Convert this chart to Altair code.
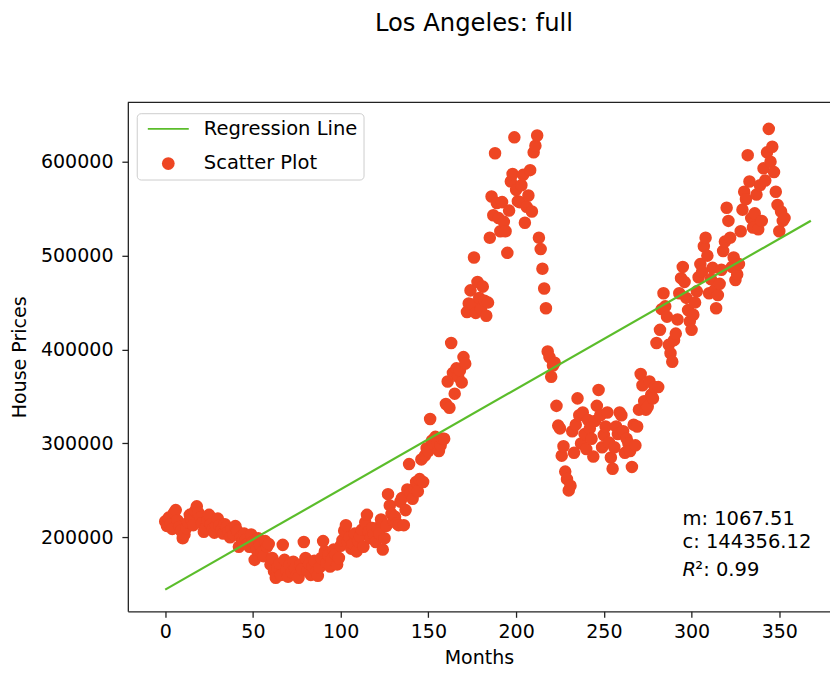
import altair as alt
import pandas as pd

# ---------------- data ----------------
prices = [
    217000, 212000, 221000, 214000, 209000, 226000, 229000, 218000, 211000, 207000,
    199000, 203000, 210000, 216000, 224000, 219000, 213000, 228000, 233000, 226000,
    221000, 215000, 206000, 210000, 218000, 224000, 214000, 209000, 205000, 212000,
    220000, 213000, 208000, 204000, 214000, 211000, 206000, 200000, 209000, 203000,
    212000, 207000, 190000, 200000, 196000, 204000, 198000, 193000, 190000, 203000,
    195000, 176000, 187000, 199000, 192000, 184000, 180000, 196000, 190000, 193000,
    171000, 178000, 164000, 157000, 168000, 172000, 160000, 192000, 176000, 165000,
    158000, 171000, 163000, 174000, 167000, 160000, 157000, 171000, 166000, 195000,
    178000, 164000, 172000, 160000, 169000, 175000, 163000, 159000, 168000, 178000,
    196000, 185000, 173000, 181000, 169000, 177000, 187000, 182000, 171000, 178000,
    191000, 197000, 207000, 213000, 195000, 200000, 188000, 193000, 204000, 185000,
    196000, 201000, 208000, 190000, 216000, 224000, 206000, 199000, 210000, 203000,
    195000, 210000, 204000, 219000, 187000, 199000, 212000, 246000, 234000, 225000,
    218000, 222000, 215000, 213000, 238000, 242000, 213000, 229000, 251000, 278000,
    247000, 241000, 252000, 259000, 249000, 262000, 283000, 259000, 287000, 295000,
    292000, 326000, 303000, 299000, 307000, 301000, 292000, 298000, 305000, 305000,
    342000, 366000, 338000, 407000, 375000, 353000, 380000, 371000, 378000, 365000,
    392000, 385000, 440000, 449000, 463000, 448000, 498000, 439000, 472000, 455000,
    443000, 467000, 452000, 436000, 450000, 519000, 563000, 543000, 609000, 556000,
    540000, 526000, 557000, 536000, 526000, 503000, 548000, 579000, 587000, 626000,
    570000, 558000, 557000, 575000, 586000, 535000, 552000, 564000, 591000, 547000,
    610000, 617000, 628000, 519000, 507000, 486000, 465000, 444000, 398000, 392000,
    371000, 383000, 386000, 340000, 319000, 316000, 287000, 297000, 270000, 262000,
    250000, 255000, 313000, 290000, 320000, 348000, 330000, 300000, 333000, 310000,
    294000, 325000, 316000, 305000, 286000, 324000, 340000, 357000, 330000, 296000,
    309000, 318000, 333000, 301000, 285000, 273000, 296000, 318000, 310000, 333000,
    330000, 313000, 290000, 305000, 300000, 292000, 275000, 320000, 298000, 318000,
    336000, 374000, 362000, 345000, 336000, 339000, 366000, 352000, 348000, 360000,
    407000, 360000, 421000, 443000, 460000, 446000, 435000, 405000, 396000, 387000,
    410000, 417000, 432000, 460000, 476000, 488000, 472000, 455000, 442000, 430000,
    421000, 437000, 450000, 462000, 477000, 491000, 483000, 510000, 519000, 500000,
    460000, 475000, 487000, 463000, 444000, 458000, 470000, 485000, 505000, 515000,
    551000, 537000, 519000, 488000, 498000, 474000, 480000, 491000, 526000, 549000,
    568000, 560000, 607000, 579000, 540000, 530000, 545000, 565000, 528000, 575000,
    537000, 593000, 580000, 610000, 635000, 600000, 616000, 589000, 568000, 554000,
    526000, 547000, 537000, 540000,
]
months = list(range(len(prices)))

slope = 1067.51
intercept = 144356.12
r_squared = 0.99
line_months = [0, 368]

series_names = ["Regression Line", "Scatter Plot"]
series_colors = ["#5bbd2b", "#ee4623"]
x_ticks = [0, 50, 100, 150, 200, 250, 300, 350]
y_ticks = [200000, 300000, 400000, 500000, 600000]

chart_title = "Los Angeles: full"
x_title = "Months"
y_title = "House Prices"

# ---------------- chart ----------------
W, H = 709, 514
FONT = "DejaVu Sans"
FS = 19.2
FS_TXT = 19.7

scatter_df = pd.DataFrame({"month": months, "price": prices, "series": series_names[1]})
line_df = pd.DataFrame({
    "month": line_months,
    "price": [intercept + slope * m for m in line_months],
})

x_scale = alt.Scale(domain=[-21.3, 378.9], nice=False, zero=False)
y_scale = alt.Scale(domain=[121200, 663300], nice=False, zero=False)

x_axis = alt.Axis(values=x_ticks, title=x_title, grid=False, labelPadding=5,
                  titlePadding=7, labelFlush=False)
y_axis = alt.Axis(values=y_ticks, title=y_title, grid=False, format="d",
                  labelPadding=9, titlePadding=11)

line_symbol = "M-3.22,-0.15H3.22V0.15H-3.22Z"

legend = alt.Legend(
    title=None, orient="none", legendX=9, legendY=11,
    symbolSize=165, symbolOffset=16, labelOffset=26,
    padding=6, rowPadding=14,
    fillColor="rgba(255,255,255,0.85)", strokeColor="#cccccc", cornerRadius=4,
    labelFont=FONT, labelFontSize=FS_TXT, labelColor="#000000",
    symbolStrokeWidth=0,
)

points = alt.Chart(scatter_df).mark_point(filled=True, opacity=1, size=160).encode(
    x=alt.X("month:Q", scale=x_scale, axis=x_axis),
    y=alt.Y("price:Q", scale=y_scale, axis=y_axis),
    color=alt.Color("series:N", scale=alt.Scale(domain=series_names, range=series_colors),
                    legend=legend),
    shape=alt.Shape("series:N", scale=alt.Scale(domain=series_names, range=[line_symbol, "circle"]),
                    legend=legend),
)

reg_line = alt.Chart(line_df).mark_line(color=series_colors[0], strokeWidth=2.2).encode(
    x=alt.X("month:Q", scale=x_scale, axis=x_axis),
    y=alt.Y("price:Q", scale=y_scale, axis=y_axis),
)

top_border = alt.Chart(pd.DataFrame({"k": [0]})).mark_rule(color="#222222", strokeWidth=1.3).encode(
    x=alt.value(0), x2=alt.value(W), y=alt.value(0)
)

def note(text, y, style="normal", dx=0):
    return alt.Chart(pd.DataFrame({"t": [text]})).mark_text(
        align="left", baseline="alphabetic", font=FONT, fontSize=FS_TXT,
        fontStyle=style, color="#000000", dx=dx,
    ).encode(x=alt.value(560), y=alt.value(y), text="t:N")

ann = (
    note(f"m: {slope:.2f}", 426.7)
    + note(f"c: {intercept:.2f}", 450)
    + note("R", 478.3, style="italic")
    + note(f"\u00b2: {r_squared:.2f}", 478.3, dx=13)
)

chart = alt.layer(points, reg_line, top_border, ann).properties(
    width=W, height=H,
    title=alt.TitleParams(chart_title, fontSize=24.5, font=FONT, fontWeight="normal",
                          anchor="middle", dx=-5, offset=66, color="#000000"),
    padding={"left": 121, "top": 92, "right": 0, "bottom": 55},
    autosize=alt.AutoSizeParams(type="none"),
).configure_view(stroke=None).configure_axis(
    domainColor="#222222", domainWidth=1.3, tickColor="#222222", tickWidth=1.3, tickSize=6,
    labelFont=FONT, labelFontSize=FS, labelColor="#000000",
    titleFont=FONT, titleFontSize=FS, titleFontWeight="normal", titleColor="#000000",
)

chart.save("out.html", embed_options={"renderer": "svg", "actions": False})
